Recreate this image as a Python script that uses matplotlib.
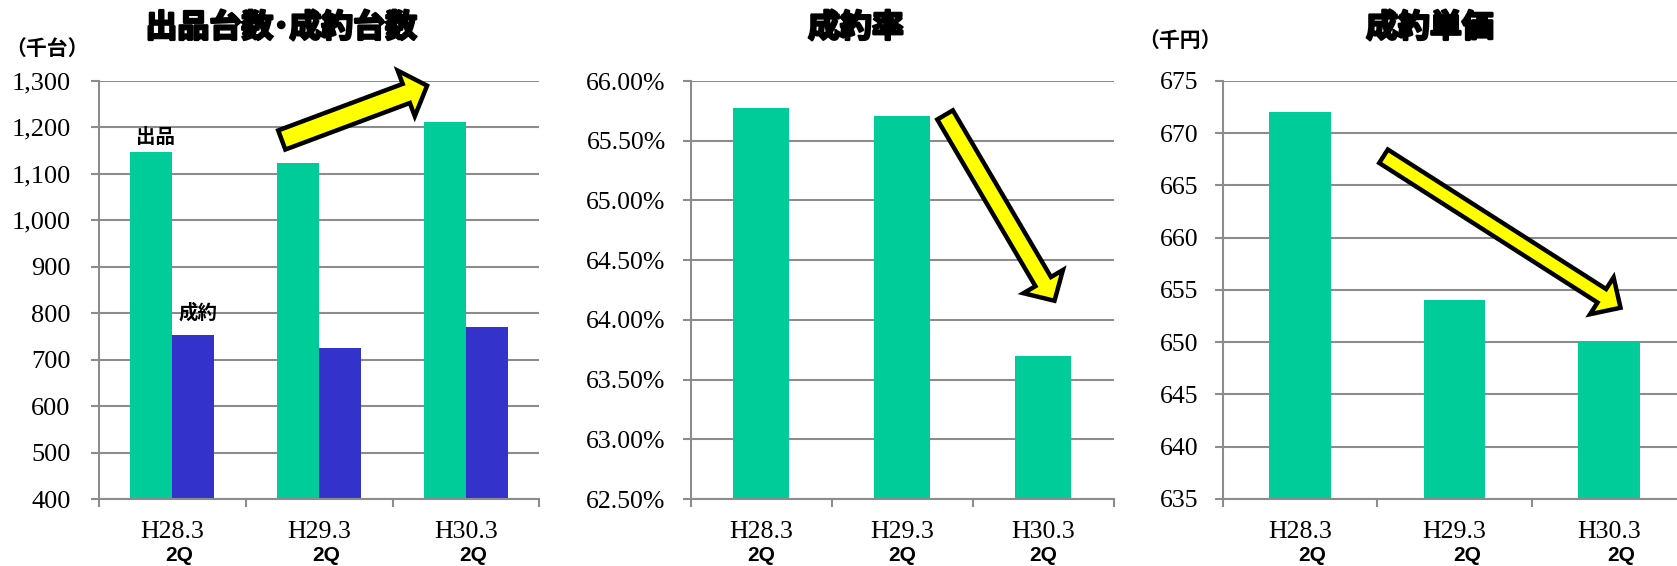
import numpy as np
import matplotlib
matplotlib.use("Agg")
import matplotlib.pyplot as plt
import matplotlib.patheffects as pe
from matplotlib.patches import FancyArrowPatch, ArrowStyle

# data
periods = ["H28.3", "H29.3", "H30.3"]
quarter = "2Q"
listed = [1147, 1123, 1211]      # 出品台数 (千台)
sold = [753, 725, 770]           # 成約台数 (千台)
rate = [65.77, 65.71, 63.70]     # 成約率 (%)
price = [672, 654, 650]          # 成約単価 (千円)

GREEN = "#00CC99"
BLUE = "#3333CC"
GRID = "#8C8C8C"
JP = ["Noto Sans CJK JP", "DejaVu Sans"]
SERIF = "Liberation Serif"

W, H = 1677, 566
fig = plt.figure(figsize=(W / 100, H / 100), dpi=100)
thick = [pe.withStroke(linewidth=1.8, foreground="black")]


def make_axes(left, right, top=81, bottom=499):
    return fig.add_axes([left / W, 1 - bottom / H, (right - left) / W, (bottom - top) / H])


def style(ax, ylo, yhi, step, fmt, ysize, ypad, qshift):
    ax.set_xlim(-0.5, 2.5)
    ax.set_ylim(ylo, yhi)
    ticks = np.arange(ylo, yhi + step / 2, step)
    ax.set_yticks(ticks)
    ax.set_yticklabels([fmt(t) for t in ticks], fontfamily=SERIF, fontsize=ysize)
    ax.yaxis.grid(True, color=GRID, lw=1.5)
    ax.set_axisbelow(True)
    for s in ("top", "right"):
        ax.spines[s].set_visible(False)
    for s in ("left", "bottom"):
        ax.spines[s].set_color(GRID)
        ax.spines[s].set_linewidth(1.5)
    ax.tick_params(axis="y", length=5.5, width=1.5, color=GRID, pad=ypad)
    ax.set_xticks(range(3))
    ax.set_xticklabels(periods, fontfamily=SERIF, fontsize=18.6)
    ax.tick_params(axis="x", which="major", length=0, pad=16)
    ax.set_xticks([-0.5, 0.5, 1.5, 2.5], minor=True)
    ax.tick_params(axis="x", which="minor", length=6, width=1.5, color=GRID)
    for i in range(3):
        ax.annotate(quarter, xy=(i, 0), xycoords=("data", "axes fraction"),
                    xytext=(qshift, -41), textcoords="offset points", ha="center", va="center",
                    fontfamily="Liberation Sans", fontweight="bold", fontsize=15,
                    annotation_clip=False)


def arrow(ax, start, end, tail, head_w, head_l):
    st = ArrowStyle.Simple(head_length=head_l, head_width=head_w, tail_width=tail)
    p = FancyArrowPatch(start, end, arrowstyle=st, mutation_scale=1, fc="#FFFF00", ec="black",
                        lw=3.2, shrinkA=0, shrinkB=0, clip_on=False, zorder=5, joinstyle="miter")
    ax.add_patch(p)


x = np.arange(3)

# 出品台数・成約台数
ax1 = make_axes(99, 99 + 3 * 146.8)
style(ax1, 400, 1300, 100, lambda v: f"{int(v):,}", 19, 15, 5)
ax1.bar(x - 0.143, listed, width=0.286, color=GREEN, zorder=2)
ax1.bar(x + 0.143, sold, width=0.286, color=BLUE, zorder=2)
ax1.text(-0.118, 1179, "出品", ha="center", va="center", fontfamily=JP, fontweight="bold", fontsize=14)
ax1.text(0.174, 800, "成約", ha="center", va="center", fontfamily=JP, fontweight="bold", fontsize=14)
arrow(ax1, (0.745, 1173), (1.735, 1290), 14.7, 35, 16)

# 成約率
ax2 = make_axes(690.7, 690.7 + 3 * 141)
style(ax2, 62.5, 66.0, 0.5, lambda v: f"{v:.2f}%", 18.5, 12.5, 0)
ax2.bar(x, rate, width=0.4, color=GREEN, zorder=2)
arrow(ax2, (1.304, 65.716), (2.08, 64.16), 13, 33, 16)

# 成約単価 (chart runs past the right edge in the source)
ax3 = make_axes(1222.7, 1222.7 + 3 * 154.5)
style(ax3, 635, 675, 5, lambda v: f"{int(v)}", 18.5, 12, 9)
ax3.bar(x, price, width=0.4, color=GREEN, zorder=2)
arrow(ax3, (0.541, 667.8), (2.075, 653.3), 11.5, 31.5, 16)

# titles and units
for cx, txt in [(281.5, "出品台数･成約台数"), (856, "成約率"), (1430, "成約単価")]:
    fig.text(cx / W, 1 - 28 / H, txt, ha="center", va="center", fontfamily=JP,
             fontweight="bold", fontsize=23, path_effects=thick)
fig.text(47 / W, 1 - 48 / H, "（千台）", ha="center", va="center", fontfamily=JP,
         fontweight="bold", fontsize=15)
fig.text(1180 / W, 1 - 40 / H, "（千円）", ha="center", va="center", fontfamily=JP,
         fontweight="bold", fontsize=15)

fig.savefig("out.png", dpi=100)
